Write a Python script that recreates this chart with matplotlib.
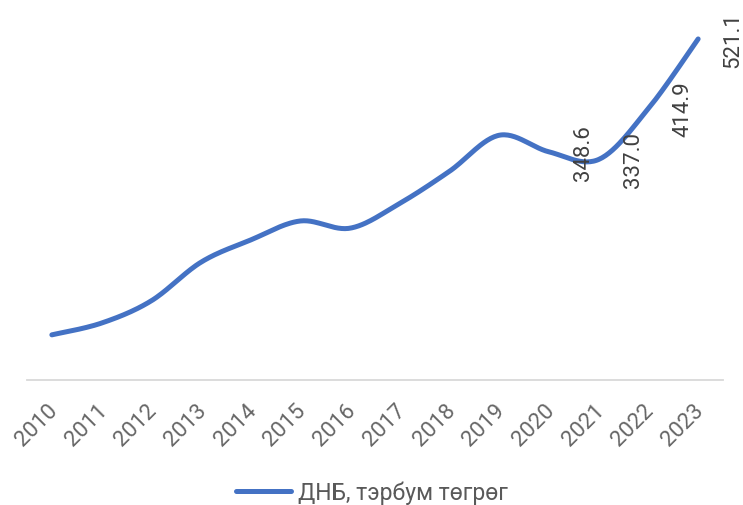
import numpy as np
import matplotlib
matplotlib.use("Agg")
import matplotlib.pyplot as plt
from matplotlib.transforms import ScaledTranslation

plt.rcParams['font.family'] = ['Roboto', 'DejaVu Sans']

years = ['2010', '2011', '2012', '2013', '2014', '2015', '2016',
         '2017', '2018', '2019', '2020', '2021', '2022', '2023']
gdp = [69, 87, 121, 180, 214, 243, 232, 270, 319, 374, 348.6, 337.0, 414.9, 521.1]
labeled = ['348.6', '337.0', '414.9', '521.1']  # only last four points carry labels
series_name = 'ДНБ, тэрбум төгрөг'

blue = '#4472C4'
gray = '#595959'


def smooth(xs, ys, n=30):
    # excel-like smoothed line: catmull-rom bezier between points
    xs = np.asarray(xs, float)
    ys = np.asarray(ys, float)
    px = np.concatenate([[xs[0]], xs, [xs[-1]]])
    py = np.concatenate([[ys[0]], ys, [ys[-1]]])
    outx, outy = [], []
    t = np.linspace(0, 1, n)
    for i in range(1, len(px) - 2):
        p0 = np.array([px[i], py[i]])
        p3 = np.array([px[i + 1], py[i + 1]])
        c1 = p0 + (np.array([px[i + 1], py[i + 1]]) - np.array([px[i - 1], py[i - 1]])) / 6
        c2 = p3 - (np.array([px[i + 2], py[i + 2]]) - np.array([px[i], py[i]])) / 6
        b = ((1 - t) ** 3)[:, None] * p0 + (3 * (1 - t) ** 2 * t)[:, None] * c1 \
            + (3 * (1 - t) * t ** 2)[:, None] * c2 + (t ** 3)[:, None] * p3
        outx.extend(b[:, 0])
        outy.extend(b[:, 1])
    return np.array(outx), np.array(outy)


fig = plt.figure(figsize=(7.43, 5.06), dpi=100)
ax = fig.add_axes([27 / 743, (506 - 381) / 506, (723 - 27) / 743, (381 - 14.5) / 506])

x = np.arange(len(years))
sx, sy = smooth(x, gdp)
ax.plot(sx, sy, color=blue, lw=3.6, solid_capstyle='round', label=series_name)

n0 = len(years) - len(labeled)
for i, txt in enumerate(labeled):
    ax.annotate(txt, (x[n0 + i], gdp[n0 + i]), xytext=(25, 0), textcoords='offset points',
                rotation=90, ha='center', va='center', fontsize=16, color='#404040')

ax.set_xlim(-0.5, len(years) - 0.5)
ax.set_ylim(0, 560)
ax.set_xticks(x)
ax.set_xticklabels(years, rotation=45, ha='right', rotation_mode='anchor',
                   fontsize=16, color='#666666')
ax.tick_params(axis='x', length=0, pad=14)
shift = ScaledTranslation(-5 / 100, 0, fig.dpi_scale_trans)
for lab in ax.get_xticklabels():
    lab.set_transform(lab.get_transform() + shift)
ax.set_yticks([])
for s in ['left', 'right', 'top']:
    ax.spines[s].set_visible(False)
ax.spines['bottom'].set_color('#D9D9D9')
ax.spines['bottom'].set_linewidth(1.3)

leg = fig.legend(loc='center', bbox_to_anchor=(0.5, (506 - 493) / 506),
                 frameon=False, fontsize=16.5, handlelength=2.4, handletextpad=0.3)
for t in leg.get_texts():
    t.set_color(gray)

fig.savefig('out.png', dpi=100)
